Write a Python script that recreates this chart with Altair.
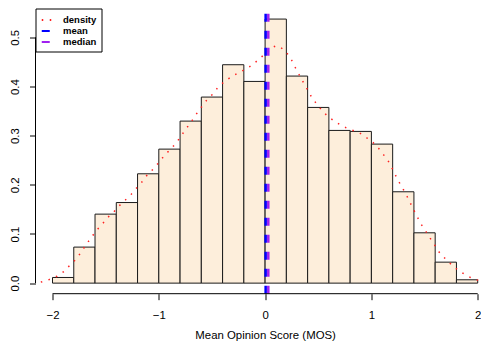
import altair as alt
import pandas as pd

# Histogram (density scale), bins of width 0.2
bin_left = [-2.0, -1.8, -1.6, -1.4, -1.2, -1.0, -0.8, -0.6, -0.4, -0.2,
            0.0, 0.2, 0.4, 0.6, 0.8, 1.0, 1.2, 1.4, 1.6, 1.8]
bin_right = [-1.8, -1.6, -1.4, -1.2, -1.0, -0.8, -0.6, -0.4, -0.2, 0.0,
             0.2, 0.4, 0.6, 0.8, 1.0, 1.2, 1.4, 1.6, 1.8, 2.0]
bin_density = [0.0115, 0.0733, 0.1404, 0.1640, 0.2225, 0.2727, 0.3297, 0.3786, 0.4444, 0.4104,
               0.5373, 0.4213, 0.3575, 0.3107, 0.3087, 0.2829, 0.1859, 0.1024, 0.0427, 0.0068]

# Kernel density curve
kde_x = [-2.110, -2.030, -1.958, -1.890, -1.834, -1.772, -1.688, -1.638, -1.588, -1.535,
         -1.489, -1.423, -1.374, -1.315, -1.259, -1.203, -1.150, -1.100, -1.047, -0.991,
         -0.942, -0.886, -0.833, -0.786, -0.740, -0.693, -0.650, -0.600, -0.550, -0.497,
         -0.448, -0.385, -0.323, -0.252, -0.177, -0.112, -0.053, 0.016, 0.068, 0.107,
         0.146, 0.202, 0.249, 0.286, 0.323, 0.361, 0.401, 0.441, 0.491, 0.544,
         0.597, 0.662, 0.730, 0.808, 0.886, 0.948, 1.016, 1.069, 1.119, 1.169,
         1.203, 1.237, 1.277, 1.318, 1.355, 1.389, 1.427, 1.464, 1.507, 1.551,
         1.594, 1.638, 1.694, 1.756, 1.818, 1.883, 1.955, 2.030]
kde_y = [0.002, 0.0075, 0.014, 0.024, 0.037, 0.050, 0.077, 0.092, 0.107, 0.119,
         0.132, 0.145, 0.157, 0.169, 0.181, 0.195, 0.208, 0.223, 0.233, 0.248,
         0.261, 0.273, 0.286, 0.301, 0.315, 0.329, 0.343, 0.358, 0.372, 0.384,
         0.397, 0.410, 0.419, 0.428, 0.436, 0.445, 0.457, 0.469, 0.480, 0.483,
         0.480, 0.469, 0.454, 0.438, 0.423, 0.408, 0.393, 0.377, 0.363, 0.349,
         0.338, 0.328, 0.319, 0.312, 0.306, 0.297, 0.286, 0.274, 0.260, 0.245,
         0.230, 0.215, 0.199, 0.184, 0.168, 0.153, 0.137, 0.121, 0.107, 0.092,
         0.078, 0.063, 0.050, 0.037, 0.026, 0.017, 0.009, 0.004]

stat_names = ["mean", "median"]
stat_values = [0.005, 0.030]

series_names = ["density", "mean", "median"]
series_colors = ["#ff2020", "#0000ff", "#a020f0"]
series_dash = [[1.5, 6.5], [8, 9], [8, 9]]

x_ticks = [-2, -1, 0, 1, 2]
y_ticks = [0.0, 0.1, 0.2, 0.3, 0.4, 0.5]

W = 445.5
H = 285.2
X_MIN, X_MAX = -2.16, 2.031
FONT = "Liberation Sans"

hist_df = pd.DataFrame({"x0": bin_left, "x1": bin_right, "d": bin_density})
kde_df = pd.DataFrame({"x": kde_x, "y": kde_y, "series": "density"})
stat_df = pd.DataFrame({"x": stat_values, "series": stat_names})

xscale = alt.Scale(domain=[X_MIN, X_MAX], nice=False, zero=False)
yscale = alt.Scale(domain=[-0.0215, 0.5588], nice=False, zero=False)

color_scale = alt.Scale(domain=series_names, range=series_colors)
dash_scale = alt.Scale(domain=series_names, range=series_dash)

legend = alt.Legend(
    title=None, orient="top-left", offset=0, padding=5,
    strokeColor="black", fillColor="white", symbolType="stroke",
    symbolSize=110, symbolStrokeWidth=2, labelFont=FONT, labelFontSize=9.5,
    labelFontWeight="bold", labelColor="black", labelOffset=9.5, rowPadding=0,
)

title_x = (0 - X_MIN) / (X_MAX - X_MIN) * W

bars = alt.Chart(hist_df).mark_rect(
    fill="#fdeedb", stroke="#1a1a1a", strokeWidth=1
).encode(
    x=alt.X("x0:Q", scale=xscale, axis=alt.Axis(
        values=x_ticks, format="d", domain=False, grid=False,
        tickSize=6, tickColor="black", labelFont=FONT, labelFontSize=11.4,
        labelColor="black", labelBaseline="alphabetic", labelPadding=18.6,
        title="Mean Opinion Score (MOS)", titleFont=FONT, titleFontSize=11.4,
        titleFontWeight="normal", titleColor="black", titleX=title_x, titleY=44.8,
        titleBaseline="alphabetic", titleAnchor="start", titleAlign="center",
    )),
    x2="x1:Q",
    y=alt.Y("d:Q", scale=yscale, axis=alt.Axis(
        values=y_ticks, format=".1f", domain=False, grid=False, title=None,
        tickSize=6, tickColor="black", labelFont=FONT, labelFontSize=11.4,
        labelColor="black", labelAngle=270, labelAlign="center",
        labelBaseline="alphabetic", labelPadding=11,
    )),
    y2=alt.Y2(datum=0),
)

kde = alt.Chart(kde_df).mark_line(strokeWidth=1.5, clip=True).encode(
    x=alt.X("x:Q", scale=xscale),
    y=alt.Y("y:Q", scale=yscale),
    color=alt.Color("series:N", scale=color_scale, legend=legend),
    strokeDash=alt.StrokeDash("series:N", scale=dash_scale, legend=legend),
)

stats = alt.Chart(stat_df).mark_rule(strokeWidth=2.5).encode(
    x=alt.X("x:Q", scale=xscale),
    y=alt.value(H),
    y2=alt.value(0),
    color=alt.Color("series:N", scale=color_scale, legend=legend),
    strokeDash=alt.StrokeDash("series:N", scale=dash_scale, legend=legend),
)

# R-style axis lines spanning only the tick range
x_axis_line = alt.Chart(pd.DataFrame({"a": [x_ticks[0]], "b": [x_ticks[-1]]})).mark_rule(
    color="black", strokeWidth=1
).encode(x=alt.X("a:Q", scale=xscale), x2="b:Q", y=alt.value(H))

y_axis_line = alt.Chart(pd.DataFrame({"a": [y_ticks[0]], "b": [y_ticks[-1]]})).mark_rule(
    color="black", strokeWidth=1
).encode(y=alt.Y("a:Q", scale=yscale), y2="b:Q", x=alt.value(0))

chart = alt.layer(bars, kde, stats, x_axis_line, y_axis_line).properties(
    width=W, height=H,
    padding={"left": 27.5, "top": 0.5, "right": 0, "bottom": 47.3},
    autosize=alt.AutoSizeParams(type="none"),
    background="white",
).configure_view(stroke=None)

chart.save("out.html", embed_options={"renderer": "svg", "actions": False})
